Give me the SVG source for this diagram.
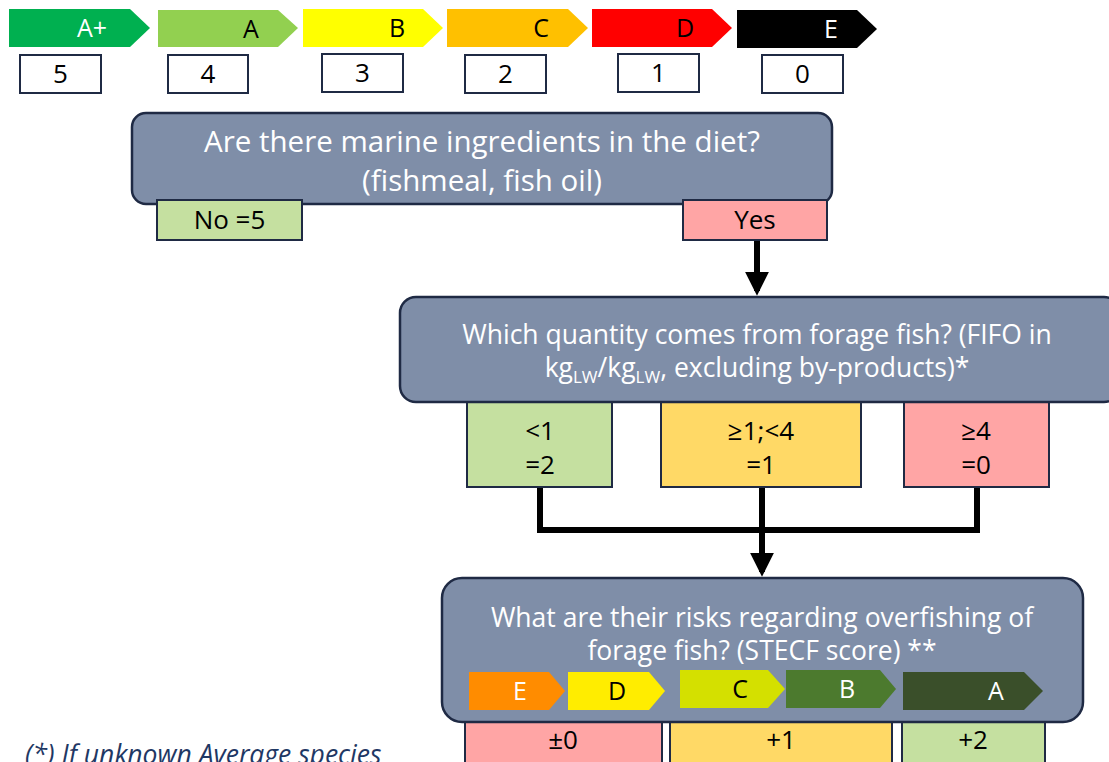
<svg xmlns="http://www.w3.org/2000/svg" width="1109" height="762" viewBox="0 0 1109 762">
<style>
text{font-family:"Open Sans","Noto Sans","DejaVu Sans",sans-serif;text-anchor:middle}
.q{fill:#7F8EA8;stroke:#1F2A44;stroke-width:2.5}
.qt{fill:#fff;font-size:26.5px}
.qt1{fill:#fff;font-size:29.5px}
.score{fill:#fff;stroke:#1F2A44;stroke-width:2}
.st{fill:#000;font-size:26px}
.opt{stroke:#1F2A44;stroke-width:2}
.ot{fill:#000;font-size:26px}
.lbl{font-size:25px}
.conn{fill:none;stroke:#000;stroke-width:6}
</style>
<defs>
<marker id="ah" viewBox="0 0 10 10" refX="8" refY="5" markerWidth="4" markerHeight="4" orient="auto" markerUnits="strokeWidth">
<path d="M0,0 L10,5 L0,10 z" fill="#000"/>
</marker>
</defs>

<g id="scale">
<g id="s-aplus"><path d="M9,9 H130 L150,28 L130,47 H9 Z" fill="#00B050"/><text x="92" y="37" class="lbl" fill="#fff">A+</text></g>
<g id="s-a"><path d="M158,10 H278 L298,28 L278,47 H158 Z" fill="#92D050"/><text x="251" y="38" class="lbl" fill="#000">A</text></g>
<g id="s-b"><path d="M303,9 H423 L443,28 L423,47 H303 Z" fill="#FFFF00"/><text x="397" y="37" class="lbl" fill="#000">B</text></g>
<g id="s-c"><path d="M447,9 H568 L588,28 L568,47 H447 Z" fill="#FFC000"/><text x="541" y="37" class="lbl" fill="#000">C</text></g>
<g id="s-d"><path d="M592,9 H712 L732,28 L712,47 H592 Z" fill="#FF0000"/><text x="685" y="37" class="lbl" fill="#000">D</text></g>
<g id="s-e"><path d="M737,10 H857 L877,29 L857,48 H737 Z" fill="#000"/><text x="831" y="38" class="lbl" fill="#fff">E</text></g>
</g>

<g id="scores">
<g id="sc5"><rect x="20" y="55" width="81" height="38" class="score"/><text x="60.5" y="83" class="st">5</text></g>
<g id="sc4"><rect x="168" y="55" width="80" height="38" class="score"/><text x="208" y="83" class="st">4</text></g>
<g id="sc3"><rect x="322" y="54" width="81" height="38" class="score"/><text x="362.5" y="82" class="st">3</text></g>
<g id="sc2"><rect x="465" y="55" width="81" height="38" class="score"/><text x="505.5" y="83" class="st">2</text></g>
<g id="sc1"><rect x="618" y="54" width="81" height="38" class="score"/><text x="658.5" y="82" class="st">1</text></g>
<g id="sc0"><rect x="762" y="55" width="81" height="38" class="score"/><text x="802.5" y="83" class="st">0</text></g>
</g>

<g id="connectors">
<path class="conn" d="M757,241 V291" marker-end="url(#ah)"/>
<path class="conn" d="M540,487 V530 H977 V487"/>
<path class="conn" d="M762,487 V572" marker-end="url(#ah)"/>
</g>

<g id="bottom-opts">
<g id="b0"><rect x="465" y="712" width="197" height="60" class="opt" fill="#FFA5A5"/><text x="563" y="749" class="ot">±0</text></g>
<g id="b1"><rect x="670" y="712" width="222" height="60" class="opt" fill="#FFD966"/><text x="781" y="749" class="ot">+1</text></g>
<g id="b2"><rect x="902" y="712" width="143" height="60" class="opt" fill="#C5E0A0"/><text x="973" y="749" class="ot">+2</text></g>
</g>

<g id="q1">
<rect x="132" y="113" width="700" height="91" rx="14" class="q"/>
<text x="482" y="152" class="qt1">Are there marine ingredients in the diet?</text>
<text x="482" y="191" class="qt1">(fishmeal, fish oil)</text>
</g>
<g id="no">
<rect x="157" y="200" width="145" height="40" class="opt" fill="#C5E0A0"/>
<text x="229.5" y="229" class="ot">No =5</text>
</g>
<g id="yes">
<rect x="683" y="200" width="144" height="40" class="opt" fill="#FFA5A5"/>
<text x="755" y="229" class="ot">Yes</text>
</g>

<g id="opts2">
<g id="o1"><rect x="467" y="396" width="145" height="91" class="opt" fill="#C5E0A0"/><text x="540" y="440" class="ot">&lt;1</text><text x="540" y="474" class="ot">=2</text></g>
<g id="o2"><rect x="661" y="396" width="200" height="91" class="opt" fill="#FFD966"/><text x="761" y="440" class="ot">≥1;&lt;4</text><text x="761" y="474" class="ot">=1</text></g>
<g id="o3"><rect x="904" y="396" width="145" height="91" class="opt" fill="#FFA5A5"/><text x="976" y="440" class="ot">≥4</text><text x="976" y="474" class="ot">=0</text></g>
</g>

<g id="q2">
<rect x="400" y="297" width="720" height="105" rx="16" class="q"/>
<text x="757" y="344" class="qt">Which quantity comes from forage fish? (FIFO in</text>
<text x="757" y="377" class="qt">kg<tspan font-size="17" dy="6">LW</tspan><tspan dy="-6">/kg</tspan><tspan font-size="17" dy="6">LW</tspan><tspan dy="-6">, excluding by-products)*</tspan></text>
</g>

<g id="q3">
<rect x="442" y="578" width="641" height="144" rx="20" class="q"/>
<text x="762" y="627" class="qt">What are their risks regarding overfishing of</text>
<text x="762" y="660" class="qt">forage fish? (STECF score) **</text>
<g id="r-e"><path d="M469,672 H549 L565,691 L549,710 H469 Z" fill="#FF8C00"/><text x="520" y="700" class="lbl" fill="#fff">E</text></g>
<g id="r-d"><path d="M568,672 H649 L665,691 L649,710 H568 Z" fill="#FFED00"/><text x="617" y="700" class="lbl" fill="#000">D</text></g>
<g id="r-c"><path d="M680,670 H768 L785,689 L768,708 H680 Z" fill="#D4E000"/><text x="740" y="698" class="lbl" fill="#000">C</text></g>
<g id="r-b"><path d="M786,670 H880 L896,689 L880,708 H786 Z" fill="#4C7A2E"/><text x="847" y="698" class="lbl" fill="#fff">B</text></g>
<g id="r-a"><path d="M903,672 H1024 L1043,691 L1024,710 H903 Z" fill="#3A4F2A"/><text x="996" y="700" class="lbl" fill="#fff">A</text></g>
</g>

<text x="25" y="764" style="text-anchor:start;font-style:italic;font-size:26.5px;fill:#1F3864">(*) If unknown Average species</text>
</svg>
